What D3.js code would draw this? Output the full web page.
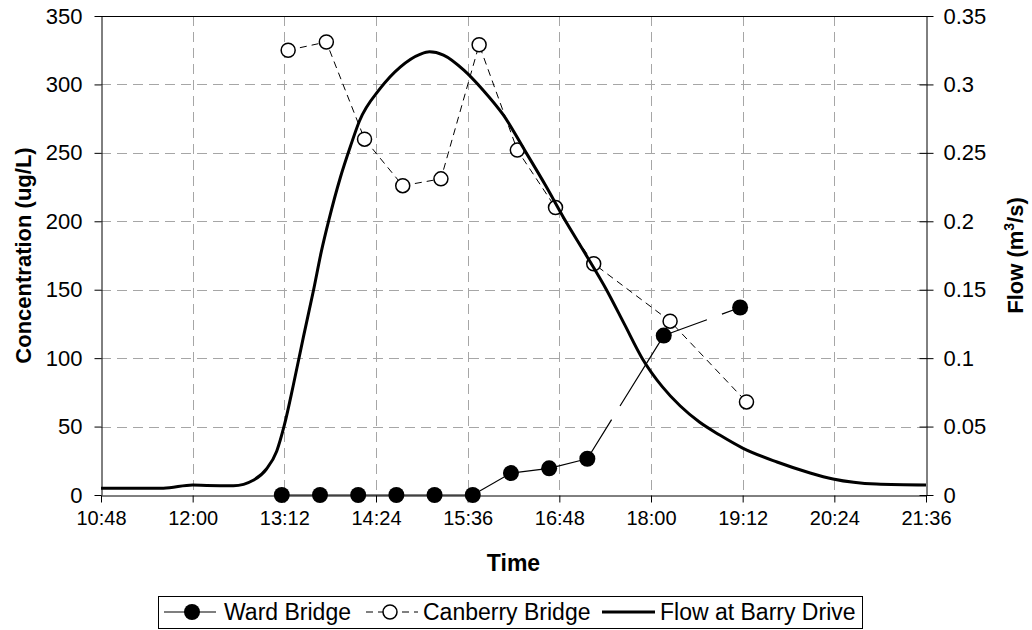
<!DOCTYPE html>
<html>
<head>
<meta charset="utf-8">
<script src="https://cdn.jsdelivr.net/npm/d3@7"></script>
<style>
  body { margin: 0; background: #fff; }
  svg { display: block; font-family: "Liberation Sans", Arial, sans-serif; }
</style>
</head>
<body>
<svg id="chart" width="1032" height="630"></svg>
<script>
// tick labels
const timeTicks = ['10:48', '12:00', '13:12', '14:24', '15:36', '16:48', '18:00', '19:12', '20:24', '21:36'];
const concTicks = [0, 50, 100, 150, 200, 250, 300, 350];
const flowTicks = [0, 0.05, 0.1, 0.15, 0.2, 0.25, 0.3, 0.35];

// Ward Bridge, concentration (ug/L)
const wardTimes = ['13:10', '13:40', '14:10', '14:40', '15:10', '15:40', '16:10', '16:40', '17:10', '18:10', '19:10'];
const wardConc = [0, 0, 0, 0, 0, 0, 16, 19.5, 26.5, 116.5, 137];

// Canberry Bridge, concentration (ug/L)
const canberryTimes = ['13:15', '13:45', '14:15', '14:45', '15:15', '15:45', '16:15', '16:45', '17:15', '18:15', '19:15'];
const canberryConc = [325, 331, 260, 226, 231, 329, 252, 210, 169, 127, 68];

// Flow at Barry Drive (m3/s)
const flowTimes = ['10:48', '11:00', '11:37', '12:00', '12:11', '12:32', '12:48', '12:58', '13:06', '13:12',
  '13:19', '13:27', '13:35', '13:41', '13:47', '13:56', '14:04', '14:11', '14:27', '14:43', '14:59', '15:06',
  '15:17', '15:33', '15:48', '16:04', '16:22', '16:37', '16:53', '17:09', '17:25', '17:39', '17:53', '18:09',
  '18:23', '18:38', '18:54', '19:12', '19:39', '20:05', '20:23', '20:57', '21:36'];
const flowValues = [0.005, 0.005, 0.005, 0.0073, 0.007, 0.0068, 0.011, 0.019, 0.032, 0.051,
  0.080, 0.1155, 0.150, 0.1776, 0.201, 0.232, 0.255, 0.2733, 0.2967, 0.3127, 0.3222, 0.3239,
  0.3215, 0.3105, 0.296, 0.2777, 0.25, 0.2265, 0.2, 0.1754, 0.15, 0.125, 0.1, 0.079,
  0.065, 0.0533, 0.0438, 0.0343, 0.0241, 0.0161, 0.0117, 0.008, 0.0073];

const toMin = s => { const [h, m] = s.split(':').map(Number); return h * 60 + m; };

const svg = d3.select('#chart');
const plotLeft = 101, plotRight = 926, plotTop = 16, plotBottom = 495;

const x = d3.scaleLinear()
  .domain([toMin(timeTicks[0]), toMin(timeTicks[timeTicks.length - 1])])
  .range([plotLeft, plotRight]);
const y = d3.scaleLinear().domain([0, 350]).range([plotBottom, plotTop]);
const y2 = d3.scaleLinear().domain([0, 0.35]).range([plotBottom, plotTop]);

// gridlines
const grid = svg.append('g')
  .attr('stroke', '#a6a6a6')
  .attr('stroke-width', 1)
  .attr('stroke-dasharray', '10 6');
grid.selectAll('.hg')
  .data(concTicks.slice(1, -1))
  .join('line')
    .attr('x1', plotLeft).attr('x2', plotRight)
    .attr('y1', d => Math.round(y(d)) + 0.5)
    .attr('y2', d => Math.round(y(d)) + 0.5);
grid.selectAll('.vg')
  .data(timeTicks.slice(1, -1))
  .join('line')
    .attr('x1', d => Math.round(x(toMin(d))) + 0.5)
    .attr('x2', d => Math.round(x(toMin(d))) + 0.5)
    .attr('y1', plotTop).attr('y2', plotBottom);

// top border
svg.append('line')
  .attr('x1', plotLeft).attr('x2', plotRight)
  .attr('y1', plotTop + 0.5).attr('y2', plotTop + 0.5)
  .attr('stroke', '#000');

// axes
const xAxis = svg.append('g')
  .attr('transform', `translate(0,${plotBottom + 0.5})`)
  .call(d3.axisBottom(x)
    .tickValues(timeTicks.map(toMin))
    .tickFormat((d, i) => timeTicks[i])
    .tickSize(7).tickSizeOuter(0).tickPadding(8));

const yAxis = svg.append('g')
  .attr('transform', `translate(${plotLeft + 0.5},0)`)
  .call(d3.axisLeft(y)
    .tickValues(concTicks)
    .tickSize(7).tickSizeOuter(0).tickPadding(12));

const y2Axis = svg.append('g')
  .attr('transform', `translate(${plotRight + 0.5},0)`)
  .call(d3.axisRight(y2)
    .tickValues(flowTicks)
    .tickFormat(d => String(+d.toFixed(2)))
    .tickSize(7).tickSizeOuter(0).tickPadding(10));
// right ticks cross the axis
y2Axis.selectAll('.tick line').attr('x1', -7);

[xAxis, yAxis, y2Axis].forEach(a => {
  a.select('.domain').attr('stroke', '#000');
  a.selectAll('.tick line').attr('stroke', '#000');
  a.selectAll('.tick text').attr('fill', '#000');
  a.attr('font-family', null);
});
xAxis.attr('font-size', 20);
yAxis.attr('font-size', 22);
y2Axis.attr('font-size', 22);

// axis titles
svg.append('text')
  .attr('transform', `translate(31,${(plotTop + plotBottom) / 2}) rotate(-90)`)
  .attr('text-anchor', 'middle')
  .attr('font-size', 22).attr('font-weight', 'bold')
  .text('Concentration (ug/L)');

const t2 = svg.append('text')
  .attr('transform', `translate(1023,${(plotTop + plotBottom) / 2}) rotate(-90)`)
  .attr('text-anchor', 'middle')
  .attr('font-size', 22).attr('font-weight', 'bold');
t2.append('tspan').text('Flow (m');
t2.append('tspan').attr('dy', -9).attr('font-size', 14).text('3');
t2.append('tspan').attr('dy', 9).text('/s)');

svg.append('text')
  .attr('x', (plotLeft + plotRight) / 2).attr('y', 571)
  .attr('text-anchor', 'middle')
  .attr('font-size', 23).attr('font-weight', 'bold')
  .text('Time');

// Canberry Bridge
const canberry = canberryTimes.map((t, i) => [toMin(t), canberryConc[i]]);
svg.append('path')
  .datum(canberry)
  .attr('fill', 'none')
  .attr('stroke', '#000')
  .attr('stroke-width', 1)
  .attr('stroke-dasharray', '7 5')
  .attr('d', d3.line().x(d => x(d[0])).y(d => y(d[1])));
svg.selectAll('.cb')
  .data(canberry)
  .join('circle')
    .attr('cx', d => x(d[0])).attr('cy', d => y(d[1]))
    .attr('r', 7)
    .attr('fill', '#fff').attr('stroke', '#000').attr('stroke-width', 1.5);

// Ward Bridge: long dash restarting at each point
const ward = wardTimes.map((t, i) => [toMin(t), wardConc[i]]);
svg.selectAll('.wseg')
  .data(d3.pairs(ward))
  .join('line')
    .attr('x1', d => x(d[0][0])).attr('y1', d => y(d[0][1]))
    .attr('x2', d => x(d[1][0])).attr('y2', d => y(d[1][1]))
    .attr('stroke', '#000')
    .attr('stroke-width', 1.2)
    .attr('stroke-dasharray', '46 16 100 16');
svg.selectAll('.wb')
  .data(ward)
  .join('circle')
    .attr('cx', d => x(d[0])).attr('cy', d => y(d[1]))
    .attr('r', 8)
    .attr('fill', '#000');

// Flow at Barry Drive
const flow = flowTimes.map((t, i) => [toMin(t), flowValues[i]]);
svg.append('path')
  .datum(flow)
  .attr('fill', 'none')
  .attr('stroke', '#000')
  .attr('stroke-width', 3)
  .attr('stroke-linejoin', 'round')
  .attr('d', d3.line().curve(d3.curveMonotoneX).x(d => x(d[0])).y(d => y2(d[1])));

// legend
const legend = svg.append('g').attr('font-size', 23);
legend.append('rect')
  .attr('x', 158.5).attr('y', 596.5)
  .attr('width', 704).attr('height', 32)
  .attr('fill', '#fff').attr('stroke', '#000');

const ly = 612;
// Ward Bridge
legend.append('line').attr('x1', 164).attr('x2', 216).attr('y1', ly).attr('y2', ly)
  .attr('stroke', '#000').attr('stroke-width', 1.2);
legend.append('circle').attr('cx', 192).attr('cy', ly).attr('r', 8).attr('fill', '#000');
legend.append('text').attr('x', 224).attr('y', 620).text('Ward Bridge');
// Canberry Bridge
legend.append('line').attr('x1', 366).attr('x2', 418).attr('y1', ly).attr('y2', ly)
  .attr('stroke', '#000').attr('stroke-width', 1).attr('stroke-dasharray', '7 5');
legend.append('circle').attr('cx', 390).attr('cy', ly).attr('r', 7)
  .attr('fill', '#fff').attr('stroke', '#000').attr('stroke-width', 1.5);
legend.append('text').attr('x', 423).attr('y', 620).text('Canberry Bridge');
// Flow
legend.append('line').attr('x1', 602).attr('x2', 655).attr('y1', ly).attr('y2', ly)
  .attr('stroke', '#000').attr('stroke-width', 3);
legend.append('text').attr('x', 660).attr('y', 620).text('Flow at Barry Drive');
</script>
</body>
</html>
